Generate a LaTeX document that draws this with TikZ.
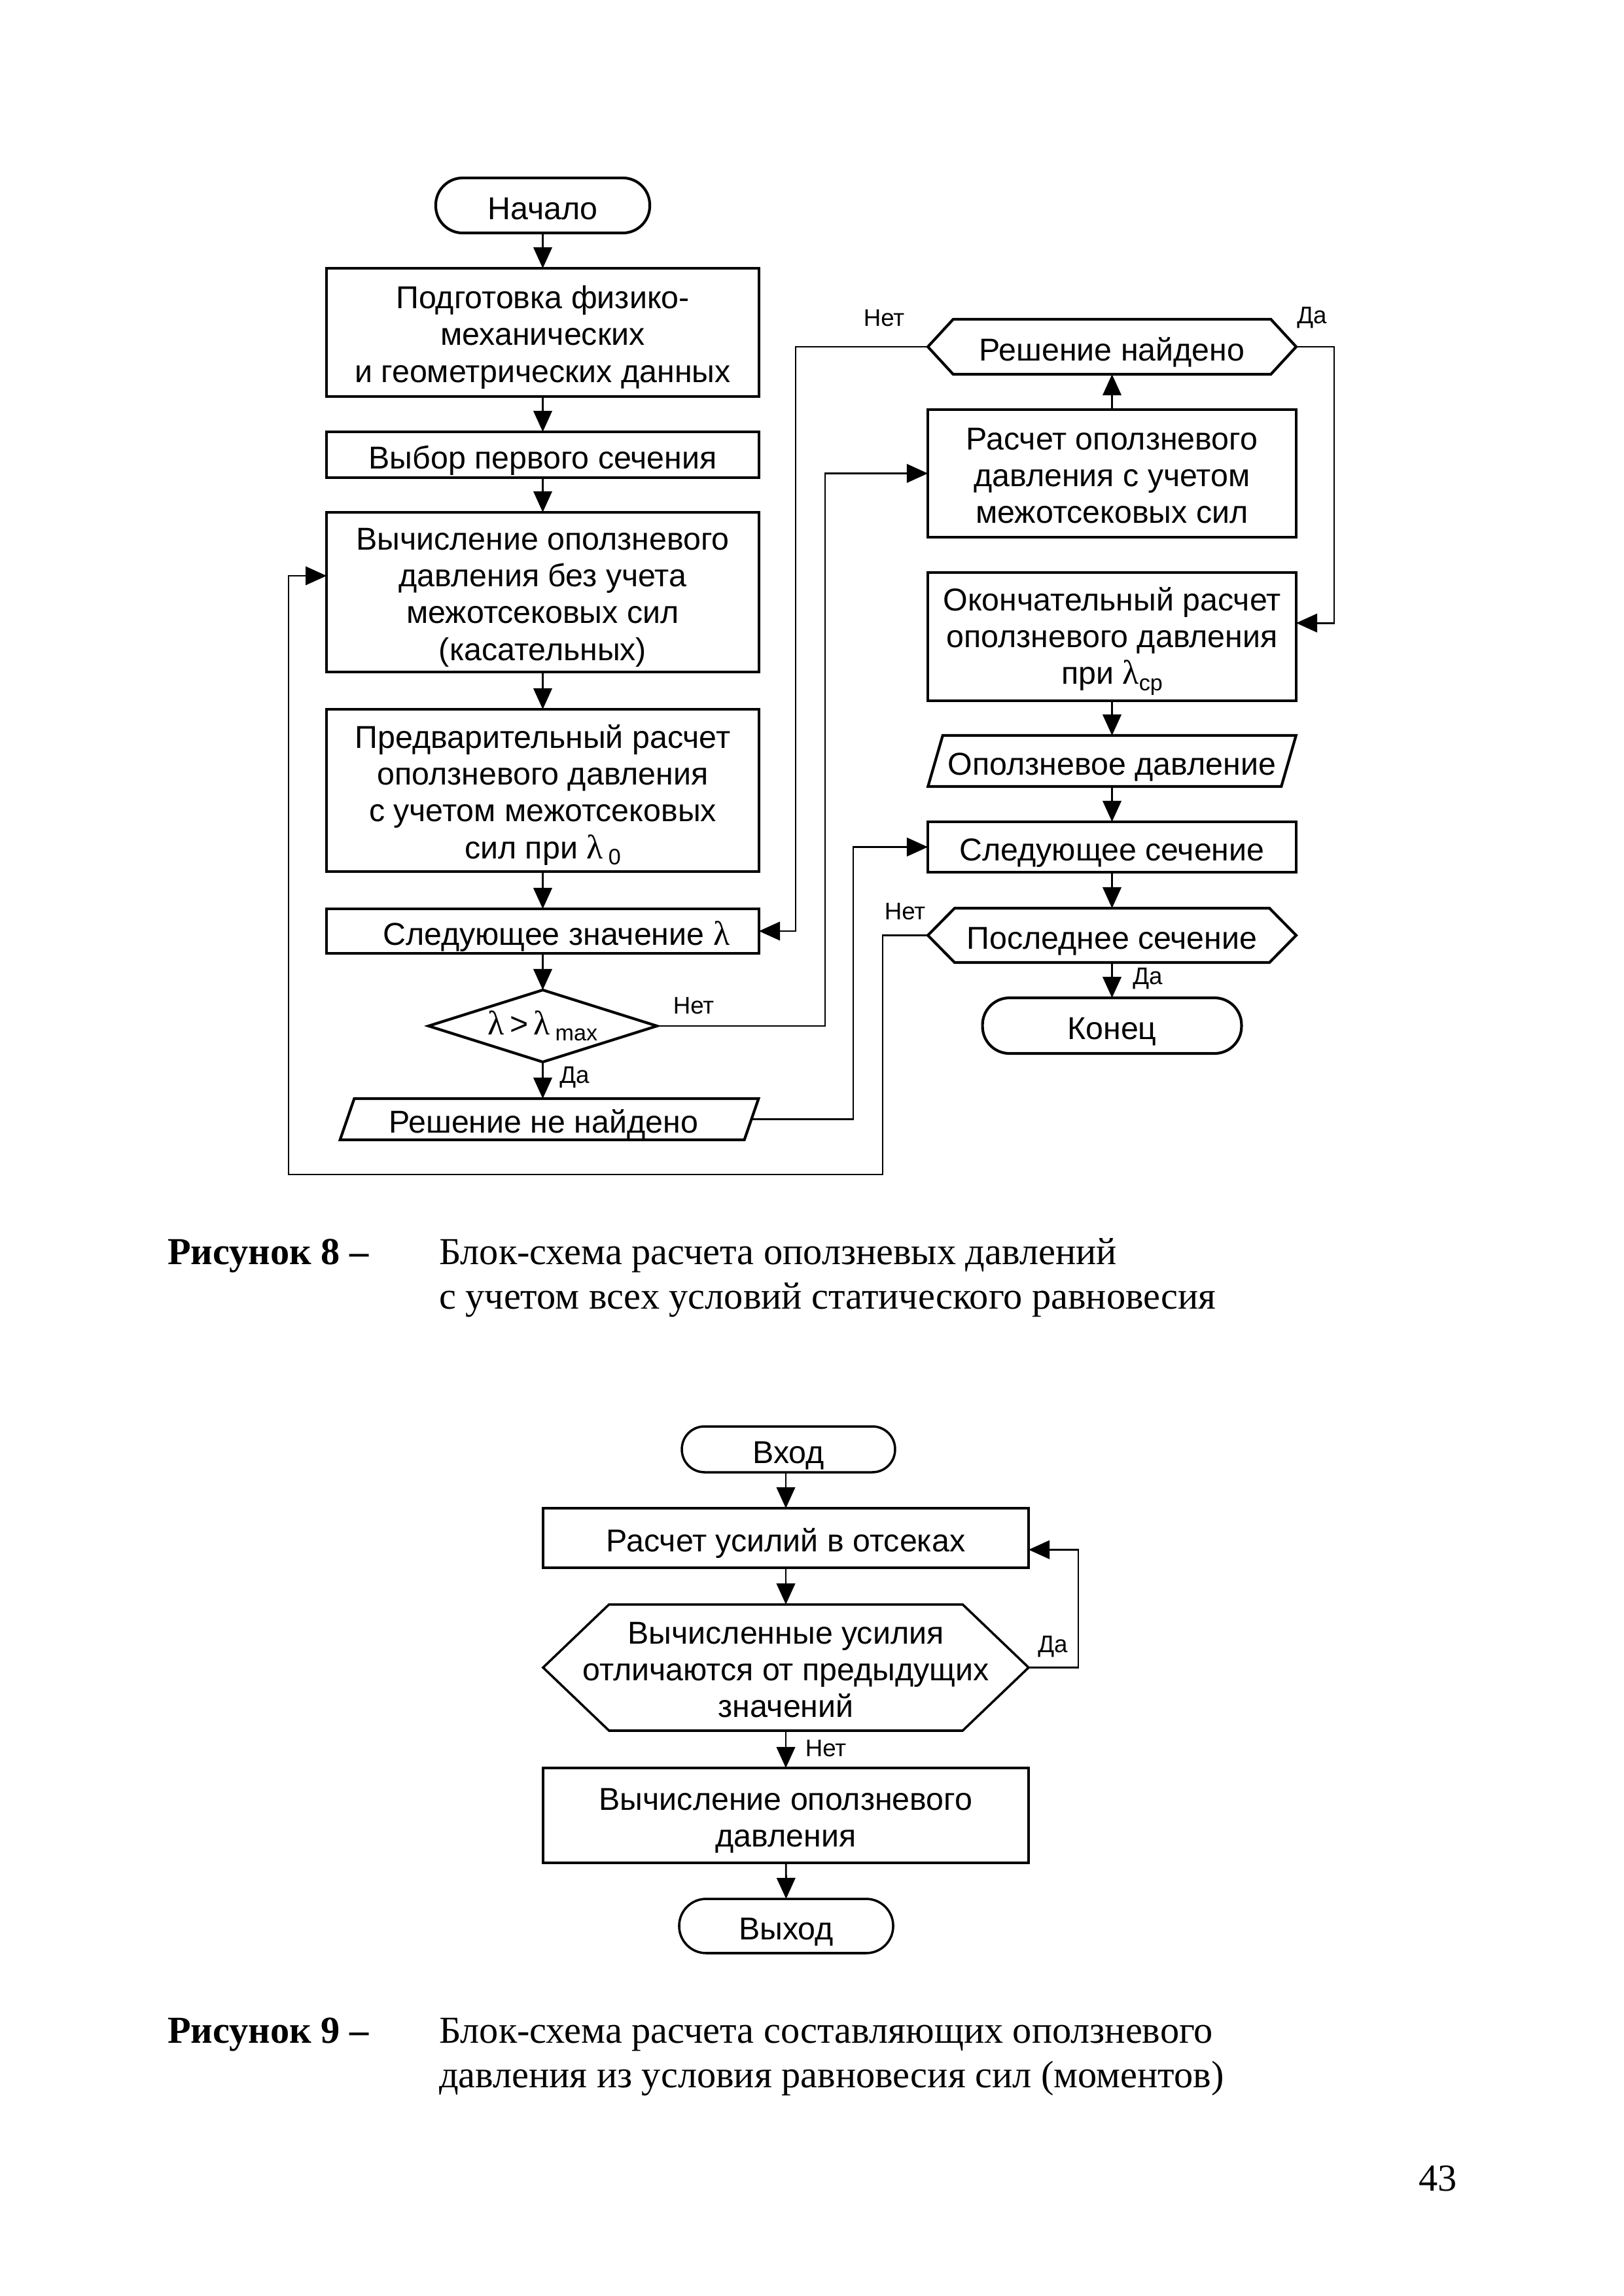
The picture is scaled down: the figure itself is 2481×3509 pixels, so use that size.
\documentclass[tikz,border=0pt]{standalone}
\usepackage{fontspec}
\setmainfont{Liberation Serif}
\newfontfamily\arial{Liberation Sans}
\usetikzlibrary{arrows.meta,shapes.geometric}
\newcommand\lam{{\rmfamily\fontsize{12.5}{12}\selectfont λ}}
\newcommand\subtxt[1]{\raisebox{-2.3pt}{\fontsize{8.2}{8}\selectfont #1}}
\newcommand\vstrut{\rule[-2.4pt]{0pt}{15.1pt}}
\newcommand\fs{\rule{0pt}{11.9pt}}
\tikzset{
  every node/.style={inner sep=0pt, outer sep=0pt},
  txt/.style={font=\arial\fontsize{11.6}{13.5}\selectfont, align=center,
    execute at begin node=\vstrut, execute at end node=\vstrut},
  bline/.style={line width=1pt},
  blk/.style={txt, draw, bline, rectangle},
  term/.style={txt, draw, bline, rounded corners=9.9pt},
  hexa/.style={txt, rectangle, append after command={\pgfextra{\draw[bline]
      ([xshift=#1]\tikzlastnode.north west) -- ([xshift=-#1]\tikzlastnode.north east) --
      (\tikzlastnode.east) -- ([xshift=-#1]\tikzlastnode.south east) --
      ([xshift=#1]\tikzlastnode.south west) -- (\tikzlastnode.west) -- cycle;}}},
  para/.style={txt, rectangle, append after command={\pgfextra{\draw[bline]
      ([xshift=-#1]\tikzlastnode.south west) -- ([xshift=#1]\tikzlastnode.north west) --
      ([xshift=#1]\tikzlastnode.north east) -- ([xshift=-#1]\tikzlastnode.south east) -- cycle;}}},
  conn/.style={line width=0.7pt, -{Triangle[length=7.7pt,width=6.8pt]}},
  lbl/.style={font=\arial\fontsize{8.8}{10}\selectfont},
  captxt/.style={font=\fontsize{14}{16.3}\selectfont, anchor=base west},
  capbold/.style={anchor=base west, font=\fontsize{14}{16.3}\selectfont\bfseries},
}
\begin{document}
\begin{tikzpicture}[x=0.24pt, y=-0.24pt]
\useasboundingbox (0,0) rectangle (2481,3509);
% ---------- Figure 8, left column ----------
\node[term, minimum width=78.5pt, minimum height=20.2pt] (start) at (829.5,314) {Начало};
\node[blk, minimum width=158.6pt, minimum height=47pt] (prep) at (829.5,508)
  {\fs Подготовка физико-\\механических\\и геометрических данных};
\node[blk, minimum width=158.6pt, minimum height=16.8pt] (sel) at (829.5,695) {Выбор первого сечения};
\node[blk, minimum width=158.6pt, minimum height=58.6pt] (calc0) at (829.5,905)
  {\fs Вычисление оползневого\\давления без учета\\межотсековых сил\\(касательных)};
\node[blk, minimum width=158.6pt, minimum height=59.5pt] (pre) at (829.5,1208)
  {\fs Предварительный расчет\\оползневого давления\\с учетом межотсековых\\сил при \lam\,\subtxt{0}};
\node[blk, minimum width=158.6pt, minimum height=16.3pt] (nextl) at (829.5,1423)
  {\hspace*{10pt}Следующее значение \lam};
\node[diamond, draw, bline, align=center, font=\arial\fontsize{11.6}{13.5}\selectfont,
  shape aspect=3.2, minimum width=83.8pt, minimum height=26.4pt] (dia) at (829.5,1568)
  {\lam\,>\,\lam\,\subtxt{max}};
\node[para=2.6pt, minimum width=148.3pt, minimum height=15.1pt] (notfound) at (839.5,1710.5)
  {\hspace*{-4.2pt}Решение не найдено};
% ---------- Figure 8, right column ----------
\node[hexa=9.3pt, minimum width=135.1pt, minimum height=20.2pt] (found) at (1699.5,530) {Решение найдено};
\node[blk, minimum width=135.1pt, minimum height=46.8pt] (calc1) at (1699.5,723.5)
  {\fs Расчет оползневого\\давления с учетом\\межотсековых сил};
\node[blk, minimum width=135.1pt, minimum height=47pt] (final) at (1699.5,973)
  {\fs Окончательный расчет\\оползневого давления\\при \lam\subtxt{ср}};
\node[para=2.7pt, minimum width=129.6pt, minimum height=18.7pt] (press) at (1699.5,1163) {Оползневое давление};
\node[blk, minimum width=135.1pt, minimum height=18.5pt] (nexts) at (1699.5,1294.5) {Следующее сечение};
\node[hexa=9.8pt, minimum width=135.1pt, minimum height=19.9pt] (last) at (1699.5,1429.5) {Последнее сечение};
\node[term, minimum width=95pt, minimum height=20.4pt] (end) at (1699.5,1567.5) {Конец};
% routing coordinates
\coordinate (xA) at (1261,0);
\coordinate (xB) at (1216,0);
\coordinate (xC) at (2039,0);
\coordinate (xD) at (1304,0);
\coordinate (bot) at (1349,1795);
\coordinate (lft) at (441,1795);
\coordinate (c0in) at ([yshift=6pt]calc0.west);
\coordinate (fin) at ([yshift=5pt]final.east);
% straight connectors
\draw[conn] (start) -- (prep);
\draw[conn] (prep) -- (sel);
\draw[conn] (sel) -- (calc0);
\draw[conn] (calc0) -- (pre);
\draw[conn] (pre) -- (nextl);
\draw[conn] (nextl) -- (dia);
\draw[conn] (dia) -- (notfound.north -| dia.south);
\draw[conn] (calc1) -- (found);
\draw[conn] (final) -- (press);
\draw[conn] (press) -- (nexts);
\draw[conn] (nexts) -- (last);
\draw[conn] (last) -- (end);
% routed connectors
\draw[conn] (dia.east) -- (dia.east -| xA) -- (xA |- calc1.west) -- (calc1.west);
\draw[conn] (found.west) -- (found.west -| xB) -- (xB |- nextl.east) -- (nextl.east);
\draw[conn] (found.east) -- (found.east -| xC) -- (xC |- fin) -- (fin);
\draw[conn] (notfound.east) -- (notfound.east -| xD) -- (xD |- nexts.west) -- (nexts.west);
\draw[conn] (last.west) -- (last.west -| bot) -- (bot) -- (lft) -- (lft |- c0in) -- (c0in);
% labels
\node[lbl] (l1) at (1351,486) {Нет};
\node[lbl] (l2) at (2005,486) {Да};
\node[lbl] (l3) at (1060,1537) {Нет};
\node[lbl] (l4) at (878,1647) {Да};
\node[lbl] (l5) at (1383,1393) {Нет};
\node[lbl] (l6) at (1754,1496) {Да};
% caption 8
\node[capbold] (c8a) at (256,1932) {Рисунок 8 –};
\node[captxt] (c8b) at (671,1932) {Блок-схема расчета оползневых давлений};
\node[captxt] (c8c) at (671,2000) {с учетом всех условий статического равновесия};
% ---------- Figure 9 ----------
\begin{scope}[bline/.style={line width=0.85pt}]
\node[term, minimum width=78.2pt, minimum height=16.8pt, rounded corners=8.3pt] (in) at (1205,2215) {Вход};
\node[blk, minimum width=178.1pt, minimum height=21.8pt] (calcF) at (1201,2350.5) {Расчет усилий в отсеках};
\node[hexa=24.2pt, minimum width=178.1pt, minimum height=46.3pt] (hexF) at (1201,2548.5)
  {\fs Вычисленные усилия\\отличаются от предыдущих\\значений};
\node[blk, minimum width=178.1pt, minimum height=34.8pt] (calcP) at (1201,2774.5) {\fs Вычисление оползневого\\давления};
\node[term, minimum width=78.5pt, minimum height=19.9pt] (out) at (1201.5,2943.5) {Выход};
\coordinate (xF) at (1648,0);
\coordinate (cFin) at ([yshift=-4.3pt]calcF.east);
\draw[conn] (in.south -| calcF.north) -- (calcF.north);
\draw[conn] (calcF) -- (hexF);
\draw[conn] (hexF) -- (calcP);
\draw[conn] (calcP) -- (out);
\draw[conn] (hexF.east) -- (hexF.east -| xF) -- (xF |- cFin) -- (cFin);
\node[lbl] (l7) at (1609,2517) {Да};
\node[lbl] (l8) at (1262,2672) {Нет};
\end{scope}
% caption 9
\node[capbold] (c9a) at (256,3122) {Рисунок 9 –};
\node[captxt] (c9b) at (671,3122) {Блок-схема расчета составляющих оползневого};
\node[captxt] (c9c) at (671,3190) {давления из условия равновесия сил (моментов)};
\node[captxt] (pg) at (2168,3348) {43};
\end{tikzpicture}
\end{document}
